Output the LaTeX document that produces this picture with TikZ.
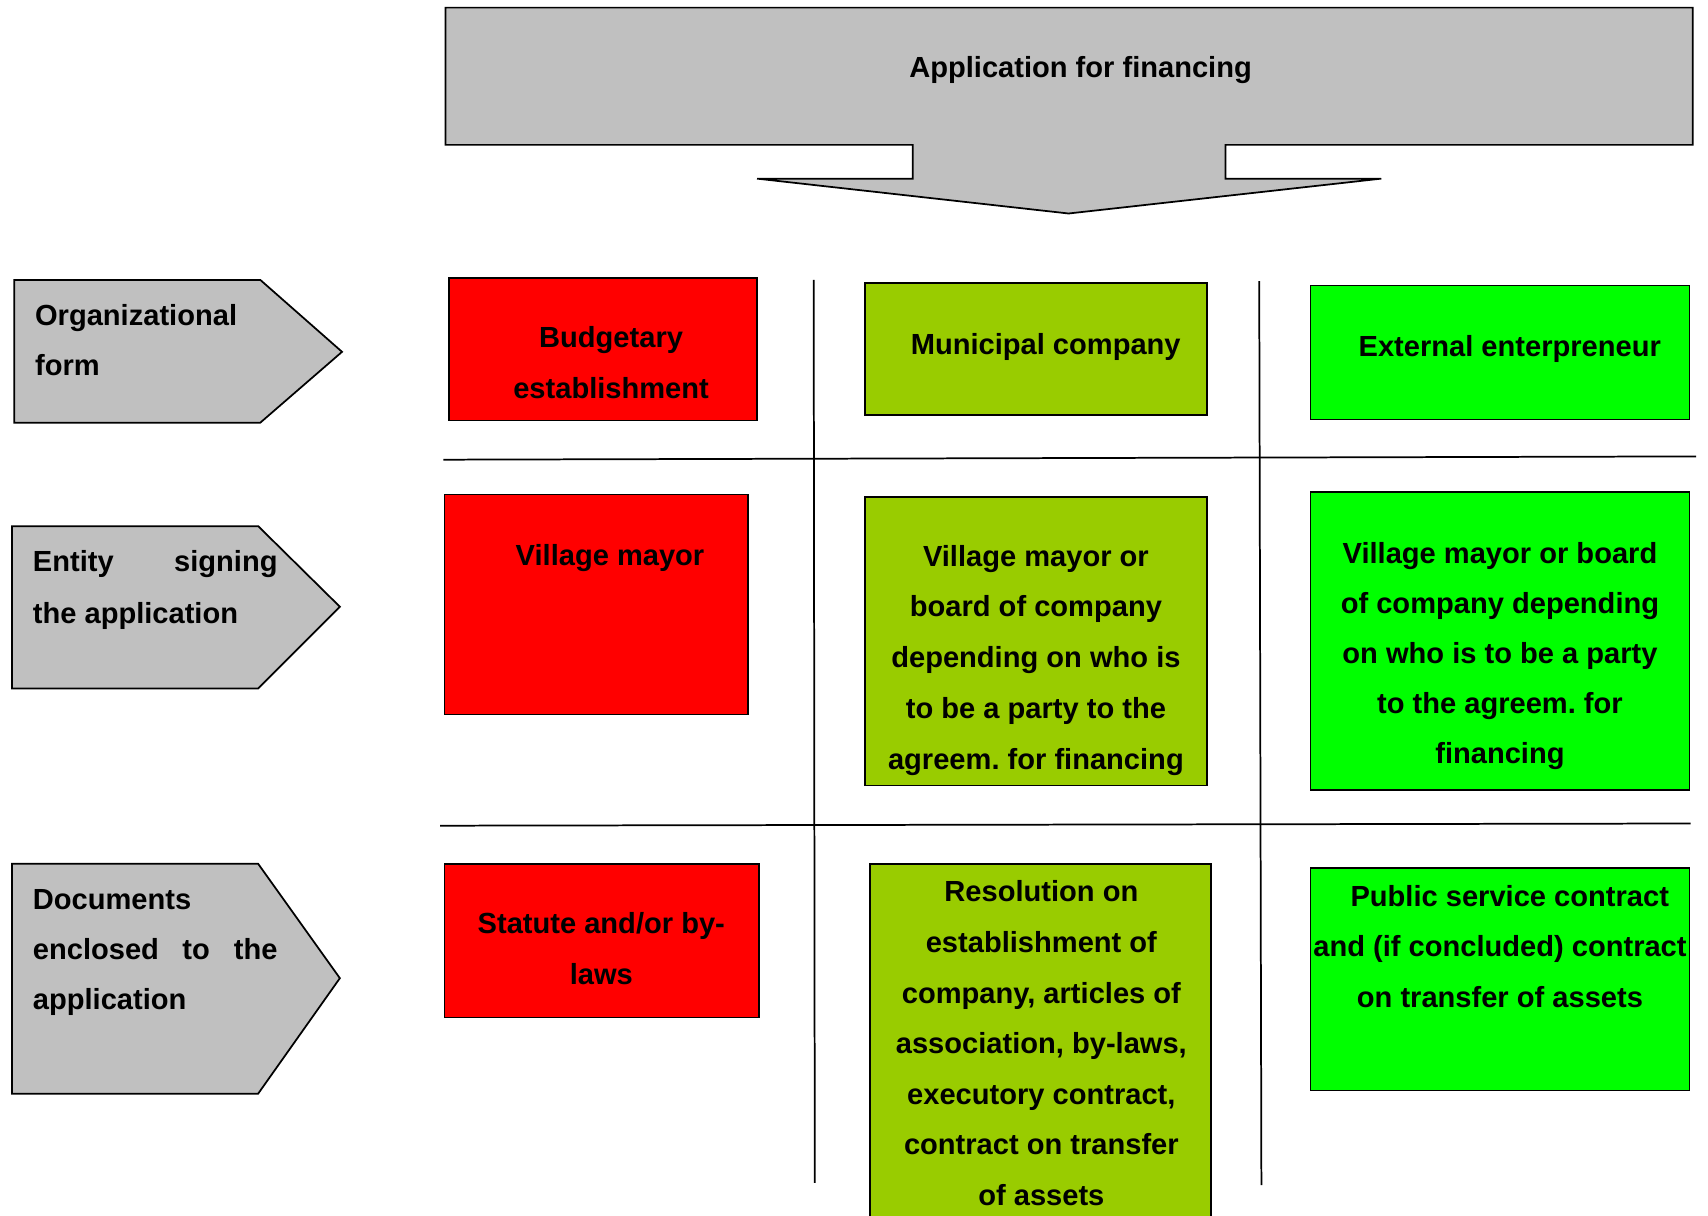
\documentclass[tikz,border=0pt]{standalone}
\usepackage{fontspec}
\setmainfont{Liberation Sans}
\frenchspacing
\definecolor{boxgray}{HTML}{C0C0C0}
\definecolor{boxred}{HTML}{FF0000}
\definecolor{boxolive}{HTML}{99CC00}
\definecolor{boxgreen}{HTML}{00FF00}
\begin{document}
\begin{tikzpicture}[x=1pt,y=-1pt,
  outline/.style={draw=black,line width=1.6pt,line join=miter},
  txt/.style={anchor=base,inner sep=0pt,font=\fontsize{26.7}{32}\selectfont\bfseries},
  ltxt/.style={txt,anchor=base west},
  rtxt/.style={txt,anchor=base east},
  divider/.style={draw=black,line width=1.6pt}]
\useasboundingbox (0,0) rectangle (1568,1116);
\clip (0,0) rectangle (1568,1116);

% top arrow
\draw[outline,fill=boxgray] (409,7) -- (1554,7) -- (1554,133) -- (1125,133) -- (1125,164)
  -- (1268,164) -- (981,196) -- (695,164) -- (838,164) -- (838,133) -- (409,133) -- cycle;
\node[txt] (title) at (992,71) {Application for financing};

% left arrows
\draw[outline,fill=boxgray] (13,257) -- (239,257) -- (314,323) -- (239,388) -- (13,388) -- cycle;
\draw[outline,fill=boxgray] (11,483) -- (237,483) -- (312,557) -- (237,632) -- (11,632) -- cycle;
\draw[outline,fill=boxgray] (11,793) -- (237,793) -- (312,898) -- (237,1004) -- (11,1004) -- cycle;
\node[ltxt] (l1a) at (32,299) {Organizational};
\node[ltxt] (l1b) at (32,345) {form};
\node[ltxt] (l2a) at (30,525) {Entity};
\node[rtxt] (l2b) at (255,525) {signing};
\node[ltxt] (l2c) at (30,572) {the application};
\node[ltxt] (l3a) at (30,835) {Documents};
\node[ltxt] (l3b) at (30,881) {enclosed};
\node[txt]  (l3c) at (180,881) {to};
\node[rtxt] (l3d) at (255,881) {the};
\node[ltxt] (l3e) at (30,927) {application};

% column 1 (red)
\draw[outline,fill=boxred] (412,255) rectangle (695,386);
\draw[outline,fill=boxred] (408,454) rectangle (687,656);
\draw[outline,fill=boxred] (408,793) rectangle (697,934);
\node[txt] (a1) at (561,319) {Budgetary};
\node[txt] (a2) at (561,366) {establishment};
\node[txt] (b1) at (560,519) {Village mayor};
\node[txt] (c1) at (552,857) {Statute and/or by-};
\node[txt] (c2) at (552,904) {laws};

% column 2 (olive)
\draw[outline,fill=boxolive] (794,260) rectangle (1108,381);
\draw[outline,fill=boxolive] (794,456) rectangle (1108,721);
\draw[outline,fill=boxolive] (799,793) rectangle (1112,1140);
\node[txt] (d1) at (960,325) {Municipal company};
\node[txt] (e1) at (951,520) {Village mayor or};
\node[txt] (e2) at (951,566) {board of company};
\node[txt] (e3) at (951,613) {depending on who is};
\node[txt] (e4) at (951,660) {to be a party to the};
\node[txt] (e5) at (951,706) {agreem. for financing};
\node[txt] (f1) at (956,828) {Resolution on};
\node[txt] (f2) at (956,874) {establishment of};
\node[txt] (f3) at (956,921) {company, articles of};
\node[txt] (f4) at (956,967) {association, by-laws,};
\node[txt] (f5) at (956,1014) {executory contract,};
\node[txt] (f6) at (956,1060) {contract on transfer};
\node[txt] (f7) at (956,1107) {of assets};

% column 3 (green)
\draw[outline,fill=boxgreen] (1203,262) rectangle (1551,385);
\draw[outline,fill=boxgreen] (1203,452) rectangle (1551,725);
\draw[outline,fill=boxgreen] (1203,797) rectangle (1551,1001);
\node[txt] (g1) at (1386,327) {External enterpreneur};
\node[txt] (h1) at (1377,517) {Village mayor or board};
\node[txt] (h2) at (1377,563) {of company depending};
\node[txt] (h3) at (1377,609) {on who is to be a party};
\node[txt] (h4) at (1377,655) {to the agreem. for};
\node[txt] (h5) at (1377,701) {financing};
\node[txt] (i1) at (1386,832) {Public service contract};
\node[txt] (i2) at (1377,878) {and (if concluded) contract};
\node[txt] (i3) at (1377,925) {on transfer of assets};

% dividers
\coordinate (v1t) at (747,257); \coordinate (v1b) at (748,1086);
\coordinate (v2t) at (1156,258); \coordinate (v2b) at (1158,1088);
\coordinate (h1l) at (407,422); \coordinate (h1r) at (1557,419);
\coordinate (h2l) at (404,758); \coordinate (h2r) at (1552,756);
\draw[divider] (v1t) -- (v1b);
\draw[divider] (v2t) -- (v2b);
\draw[divider] (h1l) -- (h1r);
\draw[divider] (h2l) -- (h2r);
\end{tikzpicture}
\end{document}
